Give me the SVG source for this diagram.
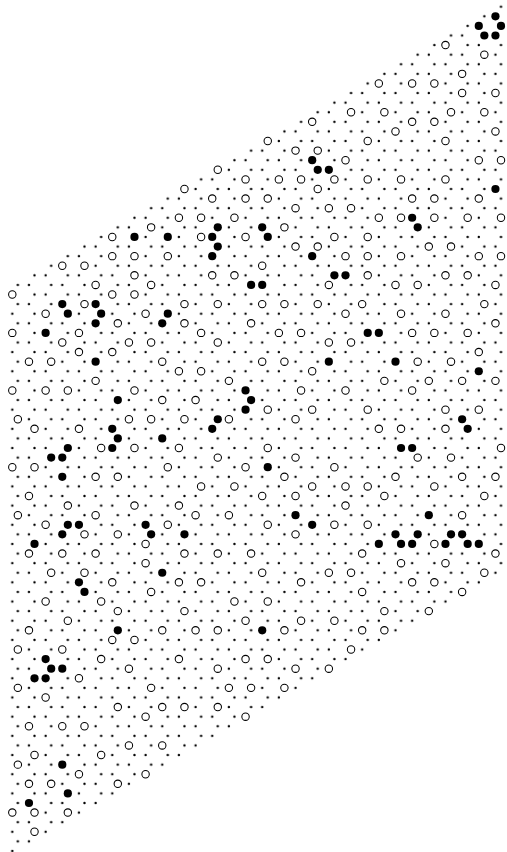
<svg xmlns="http://www.w3.org/2000/svg" xmlns:xlink="http://www.w3.org/1999/xlink" width="507" height="852" viewBox="0 0 507 852">
<style>
.bg{fill:#fff}
.dot{fill:#000}
</style>
<defs>
<pattern id="hc" patternUnits="userSpaceOnUse" x="9.5233" y="1.903" width="33.3204" height="19.188">
<circle class="dot" cx="2.7767" cy="4.797" r="1.2"/>
<circle class="dot" cx="24.9903" cy="4.797" r="1.2"/>
<circle class="dot" cx="8.3301" cy="14.391" r="1.2"/>
<circle class="dot" cx="19.4369" cy="14.391" r="1.2"/>
</pattern>
<clipPath id="pc"><polygon points="9.3,286.4 504,1.5 504,571.3 9.3,856.2"/></clipPath>
<g id="o" transform="scale(0.18007 0.104232)"><circle r="3.7" fill="#fff" stroke="#000" stroke-width="1.05"/></g>
<g id="f" transform="scale(0.18007 0.104232)"><circle r="4.1" fill="#000"/></g>
</defs>
<rect class="bg" x="0" y="0" width="507" height="852"/>
<g id="lattice"><rect x="0" y="0" width="507" height="852" fill="url(#hc)" clip-path="url(#pc)"/></g>
<g id="open-sites" transform="matrix(5.5534 0 0 9.594 12.3 6.7)">
<use href="#o" x="78" y="4"/>
<use href="#o" x="85" y="5"/>
<use href="#o" x="81" y="7"/>
<use href="#o" x="66" y="8"/><use href="#o" x="72" y="8"/><use href="#o" x="76" y="8"/>
<use href="#o" x="81" y="9"/><use href="#o" x="87" y="9"/>
<use href="#o" x="61" y="11"/><use href="#o" x="67" y="11"/><use href="#o" x="79" y="11"/><use href="#o" x="85" y="11"/>
<use href="#o" x="54" y="12"/><use href="#o" x="72" y="12"/><use href="#o" x="76" y="12"/>
<use href="#o" x="69" y="13"/><use href="#o" x="87" y="13"/>
<use href="#o" x="46" y="14"/><use href="#o" x="64" y="14"/><use href="#o" x="78" y="14"/>
<use href="#o" x="51" y="15"/><use href="#o" x="55" y="15"/>
<use href="#o" x="60" y="16"/><use href="#o" x="84" y="16"/><use href="#o" x="88" y="16"/>
<use href="#o" x="37" y="17"/>
<use href="#o" x="42" y="18"/><use href="#o" x="48" y="18"/><use href="#o" x="52" y="18"/><use href="#o" x="58" y="18"/><use href="#o" x="64" y="18"/><use href="#o" x="70" y="18"/><use href="#o" x="78" y="18"/>
<use href="#o" x="31" y="19"/><use href="#o" x="55" y="19"/>
<use href="#o" x="36" y="20"/><use href="#o" x="42" y="20"/><use href="#o" x="46" y="20"/><use href="#o" x="72" y="20"/><use href="#o" x="76" y="20"/><use href="#o" x="84" y="20"/>
<use href="#o" x="51" y="21"/><use href="#o" x="57" y="21"/><use href="#o" x="61" y="21"/>
<use href="#o" x="30" y="22"/><use href="#o" x="34" y="22"/><use href="#o" x="40" y="22"/><use href="#o" x="66" y="22"/><use href="#o" x="70" y="22"/><use href="#o" x="76" y="22"/><use href="#o" x="82" y="22"/><use href="#o" x="88" y="22"/>
<use href="#o" x="25" y="23"/><use href="#o" x="49" y="23"/>
<use href="#o" x="18" y="24"/><use href="#o" x="34" y="24"/><use href="#o" x="42" y="24"/><use href="#o" x="58" y="24"/><use href="#o" x="64" y="24"/>
<use href="#o" x="51" y="25"/><use href="#o" x="55" y="25"/><use href="#o" x="75" y="25"/><use href="#o" x="79" y="25"/>
<use href="#o" x="18" y="26"/><use href="#o" x="22" y="26"/><use href="#o" x="28" y="26"/><use href="#o" x="60" y="26"/><use href="#o" x="64" y="26"/><use href="#o" x="70" y="26"/><use href="#o" x="84" y="26"/><use href="#o" x="88" y="26"/>
<use href="#o" x="9" y="27"/><use href="#o" x="13" y="27"/><use href="#o" x="45" y="27"/>
<use href="#o" x="22" y="28"/><use href="#o" x="36" y="28"/><use href="#o" x="40" y="28"/><use href="#o" x="64" y="28"/><use href="#o" x="78" y="28"/><use href="#o" x="82" y="28"/>
<use href="#o" x="15" y="29"/><use href="#o" x="25" y="29"/><use href="#o" x="57" y="29"/><use href="#o" x="69" y="29"/><use href="#o" x="73" y="29"/><use href="#o" x="87" y="29"/>
<use href="#o" x="0" y="30"/><use href="#o" x="18" y="30"/><use href="#o" x="22" y="30"/>
<use href="#o" x="13" y="31"/><use href="#o" x="31" y="31"/><use href="#o" x="37" y="31"/><use href="#o" x="45" y="31"/><use href="#o" x="49" y="31"/><use href="#o" x="55" y="31"/><use href="#o" x="63" y="31"/><use href="#o" x="85" y="31"/>
<use href="#o" x="6" y="32"/><use href="#o" x="24" y="32"/><use href="#o" x="60" y="32"/><use href="#o" x="70" y="32"/><use href="#o" x="78" y="32"/>
<use href="#o" x="19" y="33"/><use href="#o" x="31" y="33"/><use href="#o" x="43" y="33"/><use href="#o" x="87" y="33"/>
<use href="#o" x="0" y="34"/><use href="#o" x="12" y="34"/><use href="#o" x="34" y="34"/><use href="#o" x="48" y="34"/><use href="#o" x="52" y="34"/><use href="#o" x="72" y="34"/><use href="#o" x="76" y="34"/><use href="#o" x="82" y="34"/>
<use href="#o" x="9" y="35"/><use href="#o" x="21" y="35"/><use href="#o" x="25" y="35"/><use href="#o" x="37" y="35"/><use href="#o" x="57" y="35"/><use href="#o" x="61" y="35"/>
<use href="#o" x="12" y="36"/><use href="#o" x="18" y="36"/><use href="#o" x="84" y="36"/>
<use href="#o" x="3" y="37"/><use href="#o" x="7" y="37"/><use href="#o" x="27" y="37"/><use href="#o" x="45" y="37"/><use href="#o" x="49" y="37"/><use href="#o" x="73" y="37"/><use href="#o" x="79" y="37"/>
<use href="#o" x="30" y="38"/><use href="#o" x="34" y="38"/><use href="#o" x="54" y="38"/>
<use href="#o" x="15" y="39"/><use href="#o" x="39" y="39"/><use href="#o" x="67" y="39"/><use href="#o" x="75" y="39"/><use href="#o" x="81" y="39"/><use href="#o" x="87" y="39"/>
<use href="#o" x="0" y="40"/><use href="#o" x="6" y="40"/><use href="#o" x="10" y="40"/><use href="#o" x="22" y="40"/><use href="#o" x="52" y="40"/><use href="#o" x="60" y="40"/><use href="#o" x="72" y="40"/>
<use href="#o" x="27" y="41"/><use href="#o" x="33" y="41"/>
<use href="#o" x="46" y="42"/><use href="#o" x="54" y="42"/><use href="#o" x="64" y="42"/><use href="#o" x="78" y="42"/><use href="#o" x="84" y="42"/>
<use href="#o" x="1" y="43"/><use href="#o" x="21" y="43"/><use href="#o" x="25" y="43"/><use href="#o" x="31" y="43"/><use href="#o" x="39" y="43"/><use href="#o" x="51" y="43"/>
<use href="#o" x="4" y="44"/><use href="#o" x="12" y="44"/><use href="#o" x="66" y="44"/><use href="#o" x="70" y="44"/><use href="#o" x="78" y="44"/>
<use href="#o" x="16" y="46"/><use href="#o" x="22" y="46"/><use href="#o" x="30" y="46"/><use href="#o" x="46" y="46"/><use href="#o" x="88" y="46"/>
<use href="#o" x="37" y="47"/><use href="#o" x="51" y="47"/><use href="#o" x="73" y="47"/><use href="#o" x="79" y="47"/>
<use href="#o" x="0" y="48"/><use href="#o" x="4" y="48"/><use href="#o" x="28" y="48"/><use href="#o" x="42" y="48"/><use href="#o" x="58" y="48"/>
<use href="#o" x="15" y="49"/><use href="#o" x="19" y="49"/><use href="#o" x="49" y="49"/><use href="#o" x="69" y="49"/><use href="#o" x="81" y="49"/><use href="#o" x="87" y="49"/>
<use href="#o" x="34" y="50"/><use href="#o" x="40" y="50"/><use href="#o" x="54" y="50"/><use href="#o" x="60" y="50"/><use href="#o" x="64" y="50"/><use href="#o" x="76" y="50"/>
<use href="#o" x="3" y="51"/><use href="#o" x="45" y="51"/><use href="#o" x="51" y="51"/><use href="#o" x="67" y="51"/><use href="#o" x="85" y="51"/>
<use href="#o" x="10" y="52"/><use href="#o" x="22" y="52"/><use href="#o" x="30" y="52"/><use href="#o" x="60" y="52"/>
<use href="#o" x="1" y="53"/><use href="#o" x="15" y="53"/><use href="#o" x="33" y="53"/><use href="#o" x="39" y="53"/><use href="#o" x="81" y="53"/>
<use href="#o" x="6" y="54"/><use href="#o" x="28" y="54"/><use href="#o" x="46" y="54"/><use href="#o" x="58" y="54"/><use href="#o" x="64" y="54"/>
<use href="#o" x="13" y="55"/><use href="#o" x="19" y="55"/><use href="#o" x="51" y="55"/>
<use href="#o" x="24" y="56"/><use href="#o" x="76" y="56"/>
<use href="#o" x="3" y="57"/><use href="#o" x="9" y="57"/><use href="#o" x="15" y="57"/><use href="#o" x="31" y="57"/><use href="#o" x="37" y="57"/><use href="#o" x="43" y="57"/><use href="#o" x="63" y="57"/><use href="#o" x="87" y="57"/>
<use href="#o" x="24" y="58"/><use href="#o" x="70" y="58"/><use href="#o" x="78" y="58"/>
<use href="#o" x="7" y="59"/><use href="#o" x="13" y="59"/><use href="#o" x="45" y="59"/><use href="#o" x="57" y="59"/><use href="#o" x="61" y="59"/><use href="#o" x="85" y="59"/>
<use href="#o" x="18" y="60"/><use href="#o" x="30" y="60"/><use href="#o" x="34" y="60"/><use href="#o" x="52" y="60"/><use href="#o" x="72" y="60"/><use href="#o" x="76" y="60"/>
<use href="#o" x="25" y="61"/><use href="#o" x="63" y="61"/><use href="#o" x="81" y="61"/>
<use href="#o" x="6" y="62"/><use href="#o" x="16" y="62"/><use href="#o" x="40" y="62"/><use href="#o" x="46" y="62"/>
<use href="#o" x="19" y="63"/><use href="#o" x="31" y="63"/><use href="#o" x="67" y="63"/><use href="#o" x="75" y="63"/>
<use href="#o" x="10" y="64"/><use href="#o" x="42" y="64"/><use href="#o" x="52" y="64"/><use href="#o" x="58" y="64"/>
<use href="#o" x="3" y="65"/><use href="#o" x="27" y="65"/><use href="#o" x="33" y="65"/><use href="#o" x="37" y="65"/><use href="#o" x="49" y="65"/><use href="#o" x="63" y="65"/><use href="#o" x="67" y="65"/>
<use href="#o" x="18" y="66"/><use href="#o" x="22" y="66"/>
<use href="#o" x="1" y="67"/><use href="#o" x="9" y="67"/><use href="#o" x="61" y="67"/>
<use href="#o" x="16" y="68"/><use href="#o" x="30" y="68"/><use href="#o" x="42" y="68"/><use href="#o" x="46" y="68"/>
<use href="#o" x="21" y="69"/><use href="#o" x="37" y="69"/><use href="#o" x="51" y="69"/><use href="#o" x="57" y="69"/>
<use href="#o" x="12" y="70"/>
<use href="#o" x="1" y="71"/><use href="#o" x="25" y="71"/><use href="#o" x="39" y="71"/><use href="#o" x="43" y="71"/><use href="#o" x="49" y="71"/>
<use href="#o" x="6" y="72"/>
<use href="#o" x="19" y="73"/><use href="#o" x="27" y="73"/><use href="#o" x="31" y="73"/><use href="#o" x="37" y="73"/>
<use href="#o" x="24" y="74"/><use href="#o" x="42" y="74"/>
<use href="#o" x="3" y="75"/><use href="#o" x="9" y="75"/><use href="#o" x="13" y="75"/>
<use href="#o" x="21" y="77"/><use href="#o" x="27" y="77"/>
<use href="#o" x="4" y="78"/><use href="#o" x="16" y="78"/>
<use href="#o" x="1" y="79"/>
<use href="#o" x="12" y="80"/><use href="#o" x="24" y="80"/>
<use href="#o" x="3" y="81"/><use href="#o" x="7" y="81"/><use href="#o" x="19" y="81"/>
<use href="#o" x="0" y="84"/><use href="#o" x="4" y="84"/><use href="#o" x="10" y="84"/>
<use href="#o" x="4" y="86"/>
</g>
<g id="filled-sites" transform="matrix(5.5534 0 0 9.594 12.3 6.7)">
<use href="#f" x="87" y="1"/><use href="#f" x="84" y="2"/><use href="#f" x="88" y="2"/><use href="#f" x="85" y="3"/><use href="#f" x="87" y="3"/>
<use href="#f" x="54" y="16"/><use href="#f" x="55" y="17"/><use href="#f" x="57" y="17"/><use href="#f" x="87" y="19"/>
<use href="#f" x="72" y="22"/><use href="#f" x="73" y="23"/><use href="#f" x="37" y="23"/><use href="#f" x="45" y="23"/>
<use href="#f" x="22" y="24"/><use href="#f" x="28" y="24"/><use href="#f" x="36" y="24"/><use href="#f" x="46" y="24"/>
<use href="#f" x="37" y="25"/><use href="#f" x="36" y="26"/><use href="#f" x="54" y="26"/><use href="#f" x="58" y="28"/><use href="#f" x="60" y="28"/>
<use href="#f" x="43" y="29"/><use href="#f" x="45" y="29"/><use href="#f" x="9" y="31"/><use href="#f" x="15" y="31"/>
<use href="#f" x="10" y="32"/><use href="#f" x="16" y="32"/><use href="#f" x="28" y="32"/><use href="#f" x="15" y="33"/><use href="#f" x="27" y="33"/>
<use href="#f" x="6" y="34"/><use href="#f" x="64" y="34"/><use href="#f" x="66" y="34"/>
<use href="#f" x="15" y="37"/><use href="#f" x="57" y="37"/><use href="#f" x="69" y="37"/><use href="#f" x="84" y="38"/><use href="#f" x="42" y="40"/>
<use href="#f" x="19" y="41"/><use href="#f" x="43" y="41"/><use href="#f" x="42" y="42"/><use href="#f" x="37" y="43"/><use href="#f" x="81" y="43"/>
<use href="#f" x="18" y="44"/><use href="#f" x="36" y="44"/><use href="#f" x="82" y="44"/><use href="#f" x="19" y="45"/><use href="#f" x="27" y="45"/>
<use href="#f" x="10" y="46"/><use href="#f" x="18" y="46"/><use href="#f" x="70" y="46"/><use href="#f" x="72" y="46"/>
<use href="#f" x="7" y="47"/><use href="#f" x="9" y="47"/><use href="#f" x="46" y="48"/><use href="#f" x="9" y="49"/>
<use href="#f" x="51" y="53"/><use href="#f" x="75" y="53"/>
<use href="#f" x="10" y="54"/><use href="#f" x="12" y="54"/><use href="#f" x="24" y="54"/><use href="#f" x="54" y="54"/>
<use href="#f" x="9" y="55"/><use href="#f" x="25" y="55"/><use href="#f" x="31" y="55"/><use href="#f" x="69" y="55"/><use href="#f" x="73" y="55"/><use href="#f" x="79" y="55"/><use href="#f" x="81" y="55"/>
<use href="#f" x="4" y="56"/><use href="#f" x="66" y="56"/><use href="#f" x="70" y="56"/><use href="#f" x="72" y="56"/><use href="#f" x="78" y="56"/><use href="#f" x="82" y="56"/><use href="#f" x="84" y="56"/>
<use href="#f" x="27" y="59"/><use href="#f" x="12" y="60"/><use href="#f" x="13" y="61"/><use href="#f" x="19" y="65"/><use href="#f" x="45" y="65"/>
<use href="#f" x="6" y="68"/><use href="#f" x="7" y="69"/><use href="#f" x="9" y="69"/><use href="#f" x="4" y="70"/><use href="#f" x="6" y="70"/>
<use href="#f" x="9" y="79"/><use href="#f" x="10" y="82"/><use href="#f" x="3" y="83"/>
</g>
</svg>
